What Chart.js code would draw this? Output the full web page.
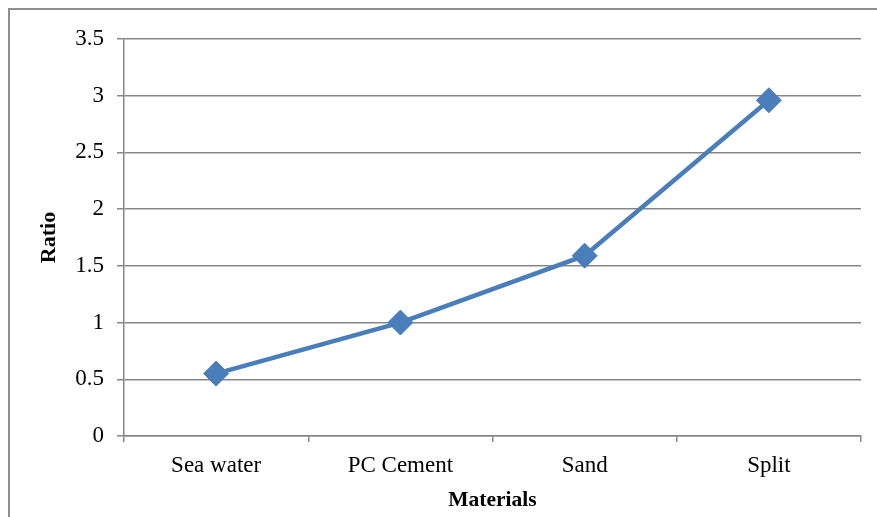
<!DOCTYPE html>
<html>
<head>
<meta charset="utf-8">
<script src="https://cdn.jsdelivr.net/npm/chart.js@4"></script>
<style>
  html, body { margin: 0; padding: 0; background: #fff; overflow: hidden; }
  #frame { position: absolute; left: 8px; top: 8px; width: 900px; height: 600px; border: 2px solid #8e8e8e; box-sizing: border-box; }
  #wrap { position: absolute; left: 0; top: 0; width: 877px; height: 517px; }
</style>
</head>
<body>
<div id="frame"></div>
<div id="wrap"><canvas id="c" width="877" height="517"></canvas></div>
<script>
const categories = ["Sea water", "PC Cement", "Sand", "Split"];
const ratioValues = [0.55, 1.0, 1.59, 2.96];
const yTicks = [0, 0.5, 1, 1.5, 2, 2.5, 3, 3.5];

const gridColor = '#878787';
const fontFam = '"Liberation Serif", "Times New Roman", serif';

new Chart(document.getElementById('c'), {
  type: 'line',
  data: {
    labels: categories,
    datasets: [{
      data: ratioValues,
      borderColor: '#4a7ebb',
      backgroundColor: '#4a7ebb',
      borderWidth: 4.5,
      pointStyle: 'rectRot',
      pointRadius: 12.5,
      pointHoverRadius: 12.5,
      pointBorderWidth: 1,
      tension: 0
    }]
  },
  options: {
    responsive: false,
    animation: false,
    events: [],
    layout: { padding: { top: 39, right: 16, left: 0, bottom: 0 } },
    plugins: { legend: { display: false }, tooltip: { enabled: false } },
    scales: {
      x: {
        type: 'category',
        offset: true,
        grid: { display: true, drawOnChartArea: false, drawTicks: true, tickLength: 6, color: gridColor, lineWidth: 1.5, offset: true },
        border: { display: true, color: gridColor, width: 1.5 },
        ticks: { color: '#000', font: { family: fontFam, size: 23 }, padding: 10, maxRotation: 0 },
        title: { display: true, text: 'Materials', color: '#000', font: { family: fontFam, size: 21.5, weight: 'bold' }, padding: { top: 0, bottom: 4 } },
        afterFit: s => { s.height = 81; }
      },
      y: {
        min: 0,
        max: 3.5,
        afterBuildTicks: s => { s.ticks = yTicks.map(v => ({ value: v })); },
        grid: { display: true, drawOnChartArea: true, drawTicks: true, tickLength: 7, color: gridColor, lineWidth: 1.5 },
        border: { display: true, color: gridColor, width: 1.5 },
        ticks: { color: '#000', font: { family: fontFam, size: 23 }, padding: 13, callback: v => String(v) },
        title: { display: true, text: 'Ratio', color: '#000', font: { family: fontFam, size: 22, weight: 'bold' }, padding: { top: 36, bottom: 0 } },
        afterFit: s => { s.width = 124; }
      }
    }
  }
});
</script>
</body>
</html>
